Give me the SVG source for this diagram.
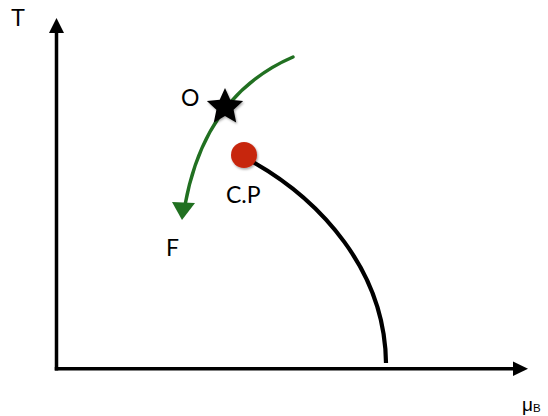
<svg xmlns="http://www.w3.org/2000/svg" width="548" height="416" viewBox="0 0 548 416">
  <style>
    .lbl { font-family: "Lato", "Liberation Sans", sans-serif; font-size: 23px; fill: #000; }
    .ax { font-family: "Liberation Sans", sans-serif; fill: #000; }
    .axis { stroke: #000; stroke-width: 3.5; fill: none; }
  </style>
  <defs>
    <filter id="sh" x="-30%" y="-30%" width="160%" height="160%">
      <feDropShadow dx="1" dy="1.5" stdDeviation="1.2" flood-color="#000" flood-opacity="0.35"/>
    </filter>
  </defs>
  <rect width="548" height="416" fill="#fff"/>

  <g id="axes">
    <line class="axis" x1="56.5" y1="370.5" x2="56.5" y2="30"/>
    <polygon points="56.5,18 49,33 64,33" fill="#000"/>
    <line class="axis" x1="54.75" y1="368.7" x2="515" y2="368.7"/>
    <polygon points="528,368.7 513,361.5 513,376" fill="#000"/>
    <text class="ax" x="11" y="26" font-size="23">T</text>
    <text class="ax" x="522" y="411" font-size="19">μ<tspan font-size="11.5" dy="1">B</tspan></text>
  </g>

  <g id="connectors">
    <path id="crossover" d="M253,162 C320,200 385,270 386,363" fill="none" stroke="#000" stroke-width="4.2"/>
    <path id="trajectory" d="M293,57 Q205,95 185,205" fill="none" stroke="#217021" stroke-width="3.4" stroke-linecap="round"/>
    <polygon points="172,202 195,203 182,220" fill="#217021"/>
  </g>

  <g id="node-cp">
    <circle cx="244" cy="155" r="13" fill="#c7260f" filter="url(#sh)"/>
    <text class="lbl" x="226" y="203">C.P</text>
  </g>

  <g id="node-o">
    <polygon filter="url(#sh)" fill="#000" points="225,88 230.3,99.7 243.1,101.1 233.6,109.8 236.2,122.4 225,116 213.8,122.4 216.4,109.8 206.9,101.1 219.7,99.7"/>
    <text class="lbl" x="181" y="106">O</text>
  </g>

  <g id="node-f">
    <text class="lbl" x="166" y="256">F</text>
  </g>
</svg>
